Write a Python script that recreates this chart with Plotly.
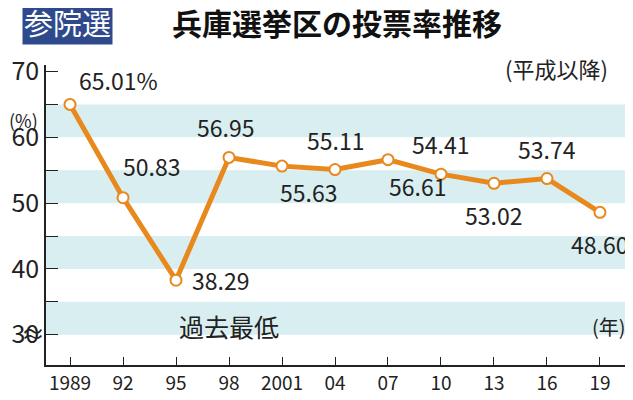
import plotly.graph_objects as go

years = [1989, 1992, 1995, 1998, 2001, 2004, 2007, 2010, 2013, 2016, 2019]
turnout = [65.01, 50.83, 38.29, 56.95, 55.63, 55.11, 56.61, 54.41, 53.02, 53.74, 48.60]
labels = ['65.01%', '50.83', '38.29', '56.95', '55.63', '55.11', '56.61', '54.41', '53.02', '53.74', '48.60']
x_ticks = ['1989', '92', '95', '98', '2001', '04', '07', '10', '13', '16', '19']
# label offsets in pixels (dx, dy)
offsets = [(48, -24), (28, -32), (44, 0), (-4, -30), (26, 26), (0, -30), (30, 26), (0, -30), (0, 32), (0, -30), (0, 32)]

orange = '#E8891E'
fig = go.Figure()
for lo in (30, 40, 50, 60):
    fig.add_shape(type='rect', xref='paper', x0=0, x1=1, y0=lo, y1=lo + 5,
                  fillcolor='#D9EEF0', line_width=0, layer='below')

fig.add_trace(go.Scatter(x=years, y=turnout, mode='lines+markers',
                         line=dict(color=orange, width=5),
                         marker=dict(size=11, color='white', line=dict(color=orange, width=2))))

for x, y, t, (dx, dy) in zip(years, turnout, labels, offsets):
    fig.add_annotation(x=x, y=y, text=t, showarrow=True, arrowcolor='rgba(0,0,0,0)',
                       ax=dx, ay=dy, font=dict(size=23, color='#222'))

fig.add_annotation(x=1998, y=31.3, text='過去最低', showarrow=False, font=dict(size=25, color='#222'))
fig.add_annotation(xref='paper', yref='paper', x=0.997, y=0.073, text='(年)', showarrow=False,
                   xanchor='right', font=dict(size=20, color='#222'))
fig.add_annotation(xref='paper', yref='paper', x=-0.01, y=0.867, text='(%)', showarrow=False,
                   xanchor='right', font=dict(size=18, color='#222'))
fig.add_annotation(xref='paper', yref='paper', x=-0.022, y=0.043, text='≈', showarrow=False,
                   xanchor='center', font=dict(size=24, color='#222'))

# title
fig.add_annotation(xref='paper', yref='paper', x=-0.041, y=1.143, xanchor='left', yanchor='middle',
                   text='参院選', showarrow=False, font=dict(size=29, color='white'),
                   bgcolor='#2E4A8C', borderpad=1)
fig.add_annotation(xref='paper', yref='paper', x=0.212, y=1.143, xanchor='left', yanchor='middle',
                   text='<b>兵庫選挙区の投票率推移</b>', showarrow=False, font=dict(size=30, color='#111'))
fig.add_annotation(xref='paper', yref='paper', x=0.966, y=0.99, xanchor='right', yanchor='middle',
                   text='(平成以降)', showarrow=False, font=dict(size=22, color='#222'))

fig.update_layout(
    width=625, height=392, margin=dict(l=38, r=3, t=57, b=35),
    plot_bgcolor='white', paper_bgcolor='white', showlegend=False,
    font=dict(family='Noto Sans CJK JP'),
    xaxis=dict(range=[1987.64, 2020.7], tickvals=years, ticktext=x_ticks, showgrid=False,
               showline=True, linecolor='#222', linewidth=2, ticks='inside', ticklen=8,
               tickcolor='#222', tickfont=dict(size=19, color='#222'),
               zeroline=False),
    yaxis=dict(range=[25.4, 71], tickvals=[30, 40, 50, 60, 70], showgrid=False,
               showline=True, linecolor='#222', linewidth=1.5, ticks='inside', ticklen=12,
               tickcolor='#222', tickfont=dict(size=25, color='#222'),
               zeroline=False,
               minor=dict(tickvals=[35, 45, 55, 65], ticks='inside', ticklen=12, tickcolor='#222')),
)
fig.write_html('out.html')
